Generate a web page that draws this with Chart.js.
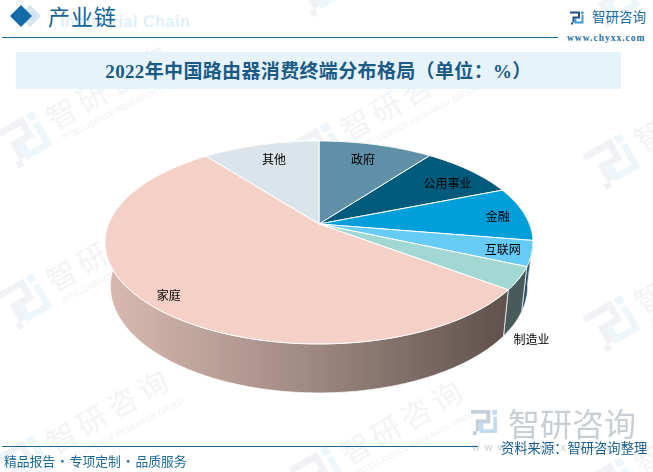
<!DOCTYPE html>
<html>
<head>
<meta charset="utf-8">
<script src="https://cdn.jsdelivr.net/npm/chart.js@4"></script>
<style>
html, body { margin: 0; padding: 0; width: 653px; height: 472px; overflow: hidden; background: #fff; }
body { position: relative; font-family: "Noto Sans CJK SC", sans-serif; }
div, canvas, svg { position: absolute; }
.t { white-space: nowrap; line-height: 1; }
.mark { width: 0; height: 0; transform: rotate(-30deg); }
.mark svg { left: -23px; top: -23px; }
.mark b { position: absolute; left: 30px; top: -21px; font-size: 30px; line-height: 30px; font-weight: 400; letter-spacing: 4.8px; color: #f2f4f5; white-space: nowrap; }
.mark i { position: absolute; left: 34px; top: 13px; font: 8px "Liberation Sans", sans-serif; white-space: nowrap; color: #f0f2f4; transform: rotate(3deg); transform-origin: 0 0; }
.dot { display: inline-block; width: 14.5px; text-align: center; }
#pie { left: 0; top: 0; }
</style>
</head>
<body>
<div id="marks"></div>

<div style="left:19px;top:5px;width:22px;height:22px;"><svg width="22" height="22"><polygon points="11,0 22,11 11,22 0,11" fill="#d5e5ef"/></svg></div>
<div style="left:10px;top:5px;width:22px;height:22px;"><svg width="22" height="22"><polygon points="11,0 22,11 11,22 0,11" fill="#126ba8"/></svg></div>
<div class="t" style="left:60px;top:13px;font:bold 16px 'Liberation Sans';letter-spacing:.6px;color:#dff0fa;">Industrial Chain</div>
<div class="t" style="left:48px;top:4px;font-size:22px;color:#14659b;letter-spacing:1px;">产业链</div>
<div style="left:2px;top:37px;width:556px;height:1px;background:#1a6a95;"></div>

<div id="logoTop" style="left:570px;top:11px;"></div>
<div class="t" style="left:592px;top:10px;font-size:13.5px;color:#1a6a9e;">智研咨询</div>
<div class="t" style="left:567px;top:33px;font:bold 9.5px 'Liberation Serif';letter-spacing:1px;color:#2a6f9f;">www.chyxx.com</div>

<div style="left:16px;top:52px;width:605px;height:37px;background:#e6f3fb;"></div>
<div class="t" style="left:16px;top:56px;width:605px;text-align:center;font:bold 19px 'Liberation Serif','Noto Sans CJK SC';letter-spacing:.35px;color:#1a5a85;">2022年中国路由器消费终端分布格局（单位：%）</div>

<canvas id="pie" width="653" height="472"></canvas>

<div id="logoBottom" style="left:471px;top:409px;"></div>
<div class="t" style="left:508px;top:406px;font-size:32px;color:#c9ced2;">智研咨询</div>
<div class="t" style="left:472px;top:442px;font:bold 10px 'Liberation Sans';letter-spacing:5px;color:#d5dadf;">www.chyxx.com</div>

<div style="left:2px;top:446px;width:476px;height:1px;background:#1a6a95;"></div>
<div class="t" style="left:501px;top:441px;font-size:13.3px;color:#1a5f8c;">资料来源：智研咨询整理</div>
<div class="t" style="left:4px;top:455px;font-size:12.8px;color:#1a6a95;">精品报告<span class="dot">·</span>专项定制<span class="dot">·</span>品质服务</div>

<script>
// DATA
const categories = ["政府", "公用事业", "金融", "互联网", "制造业", "家庭", "其他"];
const shares = [10.3, 8.7, 8.6, 4.0, 3.6, 54.3, 10.5];

// STYLES
const topColors = ["#5f90a8", "#005a7c", "#009fd9", "#66ccf5", "#a2d8d3", "#f5d0c6", "#dbe4ea"];
const wallColors = ["#2f4854", "#002d3e", "#004f6c", "#2c5570", "#475c5a", null, "#6d7275"];
const labelRadius = [0.79, 0.8, 0.865, 0.87, 1.275, 0.9, 0.79];
const labelTurn = [-1, 3, 1, 0, 19, 0, 1];

// tilted disc: circle -> perspective ellipse around the apex
const apexX = 319, apexY = 224;
const spreadX = 210.4, spreadY = 98.1, tilt = 0.182;
const wallDrop = 43, wallScaleX = 0.975, wallScaleY = 1.05;

function project(angle, r) {
    const u = Math.cos(angle) * r, v = Math.sin(angle) * r;
    const w = 1 - tilt * v;
    return { x: apexX + spreadX * u / w, y: apexY + spreadY * v / w };
}
function projectBottom(angle) {
    const p = project(angle, 1);
    return { x: apexX + (p.x - apexX) * wallScaleX, y: apexY + wallDrop + (p.y - apexY) * wallScaleY };
}
function rim(a0, a1, fn) {
    const pts = [], n = Math.max(2, Math.ceil((a1 - a0) / 0.01));
    for (let i = 0; i <= n; i++) pts.push(fn(a0 + (a1 - a0) * i / n));
    return pts;
}

const tiltedPie = {
    id: "tiltedPie",
    beforeDatasetDraw(chart, args) {
        const ctx = chart.ctx;
        const arcs = args.meta.data;
        ctx.save();
        ctx.lineJoin = "round";

        // side walls
        arcs.forEach(function (arc, i) {
            const upper = rim(arc.startAngle, arc.endAngle, a => project(a, 1));
            const lower = rim(arc.startAngle, arc.endAngle, projectBottom).reverse();
            ctx.beginPath();
            upper.concat(lower).forEach((p, k) => k ? ctx.lineTo(p.x, p.y) : ctx.moveTo(p.x, p.y));
            ctx.closePath();
            if (wallColors[i]) {
                ctx.fillStyle = wallColors[i];
            } else {
                const g = ctx.createLinearGradient(105, 0, 507, 0);
                g.addColorStop(0, "#d9bab1");
                g.addColorStop(0.5, "#a08a82");
                g.addColorStop(1, "#5f514d");
                ctx.fillStyle = g;
            }
            ctx.fill();
            ctx.strokeStyle = "rgba(255,255,255,0.7)";
            ctx.lineWidth = 1;
            ctx.stroke();
        });

        // top faces
        arcs.forEach(function (arc, i) {
            ctx.beginPath();
            ctx.moveTo(apexX, apexY);
            rim(arc.startAngle, arc.endAngle, a => project(a, 1)).forEach(p => ctx.lineTo(p.x, p.y));
            ctx.closePath();
            ctx.fillStyle = topColors[i];
            ctx.fill();
            ctx.strokeStyle = "#ffffff";
            ctx.lineWidth = 1;
            ctx.stroke();
        });

        // labels
        ctx.font = '12px "Noto Sans CJK SC"';
        ctx.fillStyle = "#000000";
        ctx.textAlign = "center";
        ctx.textBaseline = "middle";
        arcs.forEach(function (arc, i) {
            const mid = (arc.startAngle + arc.endAngle) / 2 + labelTurn[i] * Math.PI / 180;
            const p = project(mid, labelRadius[i]);
            ctx.fillText(categories[i], p.x, p.y);
        });
        ctx.restore();
        return false;
    }
};

// LOGO
function logoSvg(size, dark, light) {
    return '<svg width="' + size + '" height="' + size + '" viewBox="0 0 28 28" fill="none" stroke-width="4">' +
        '<path d="M0 3H18V13H7V23" stroke="' + dark + '"/>' +
        '<rect x="2" y="23" width="4" height="4" fill="' + dark + '" stroke="none"/>' +
        '<rect x="22" y="1" width="5" height="5" fill="' + light + '" stroke="none"/>' +
        '<path d="M25 8V23H11V14" stroke="' + light + '"/></svg>';
}
document.getElementById("logoTop").innerHTML = logoSvg(14, "#2b4a8c", "#3a9ad9");
document.getElementById("logoBottom").innerHTML = logoSvg(27, "#c5cfdc", "#c2dcef");

// WATERMARKS
const markCols = [0, 1, 2];
const markRows = [-1, 0, 1, 2];
const marksBox = document.getElementById("marks");
markRows.forEach(function (row) {
    markCols.forEach(function (col) {
        const m = document.createElement("div");
        m.className = "mark";
        m.style.left = (25 + 294 * col) + "px";
        m.style.top = (140 + 162 * row + 11 * col) + "px";
        m.innerHTML = logoSvg(46, "#f0f2f6", "#edf6fa") + "<b>智研咨询</b><i>INTELLIGENCE RESEARCH GROUP</i>";
        marksBox.appendChild(m);
    });
});

new Chart(document.getElementById("pie").getContext("2d"), {
    type: "pie",
    data: {
        labels: categories,
        datasets: [{ data: shares, backgroundColor: topColors }]
    },
    options: {
        responsive: false,
        animation: false,
        plugins: { legend: { display: false }, tooltip: { enabled: false } }
    },
    plugins: [tiltedPie]
});
</script>
</body>
</html>
